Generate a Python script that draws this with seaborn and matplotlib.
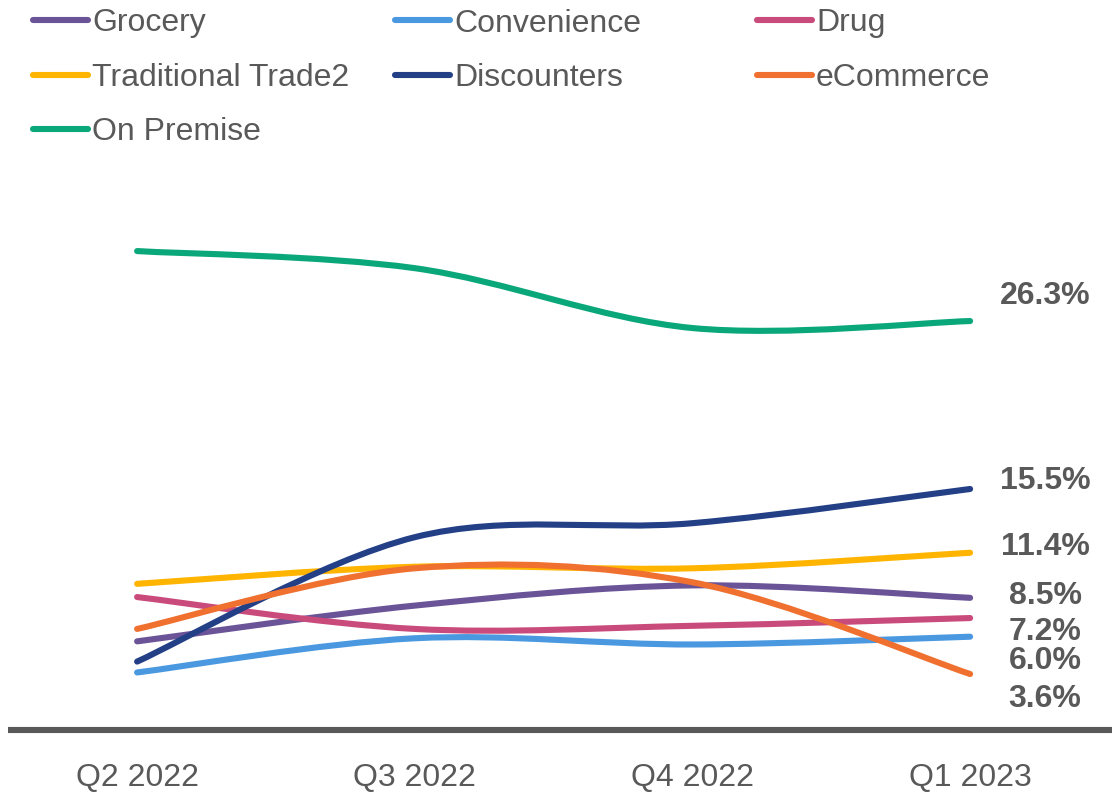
import numpy as np
import pandas as pd
import matplotlib
matplotlib.use("Agg")
import matplotlib.pyplot as plt
from matplotlib.path import Path
from matplotlib.patches import PathPatch
from matplotlib.lines import Line2D
import seaborn as sns

# ---------------- data ----------------
quarters = ["Q2 2022", "Q3 2022", "Q4 2022", "Q1 2023"]
channels = ["Grocery", "Convenience", "Drug", "Traditional Trade2",
            "Discounters", "eCommerce", "On Premise"]
grocery = [5.7, 8.0, 9.3, 8.5]
convenience = [3.7, 5.9, 5.5, 6.0]
drug = [8.55, 6.5, 6.7, 7.2]
traditional = [9.4, 10.5, 10.4, 11.4]
discounters = [4.4, 12.4, 13.3, 15.5]
ecommerce = [6.5, 10.4, 9.5, 3.6]
on_premise = [30.8, 29.7, 25.85, 26.3]
end_labels = ["8.5%", "6.0%", "7.2%", "11.4%", "15.5%", "3.6%", "26.3%"]

series = [grocery, convenience, drug, traditional, discounters, ecommerce, on_premise]
colors = ["#6A5396", "#4A99E0", "#C94B7B", "#FFB400", "#233F86", "#F07030", "#0AA77A"]
# vertical offsets of the end labels (data units), layout only
label_dy = [0.13, -1.56, -0.89, 0.38, 0.5, -1.6, 1.62]

df = pd.DataFrame({ch: vals for ch, vals in zip(channels, series)}, index=quarters)

# ---------------- style ----------------
sns.set_theme(style="white")
plt.rcParams["font.family"] = ["Liberation Sans", "DejaVu Sans"]
TXT = "#595959"
FS = 23

fig = plt.figure(figsize=(11.2, 7.94), dpi=100)
ax = fig.add_axes([8 / 1120, 64 / 794, 1104 / 1120, 580 / 794])

xpos = np.arange(len(quarters))


def smooth_path(xs, ys):
    pts = np.column_stack([xs, ys]).astype(float)
    n = len(pts)
    verts = [pts[0]]
    codes = [Path.MOVETO]
    for i in range(n - 1):
        p0 = pts[i - 1] if i > 0 else pts[i]
        p1 = pts[i]
        p2 = pts[i + 1]
        p3 = pts[i + 2] if i + 2 < n else pts[i + 1]
        c1 = p1 + (p2 - p0) / 6.0
        c2 = p2 - (p3 - p1) / 6.0
        verts += [c1, c2, p2]
        codes += [Path.CURVE4] * 3
    return Path(verts, codes)


for ch, col in zip(channels, colors):
    patch = PathPatch(smooth_path(xpos, df[ch].values), facecolor="none",
                      edgecolor=col, lw=4.4, capstyle="round", joinstyle="round",
                      transform=ax.transData)
    ax.add_patch(patch)

for ch, lab, dy in zip(channels, end_labels, label_dy):
    ax.text(3.27, df[ch].values[-1] + dy, lab, ha="center", va="center",
            fontsize=FS, fontweight="bold", color=TXT)

ax.set_xlim(-0.465, 3.511)
ax.set_ylim(0, 37.3)
ax.set_xticks(xpos)
ax.set_xticklabels(quarters, fontsize=FS, color=TXT)
ax.set_yticks([])
ax.tick_params(axis="x", length=0, pad=24)
sns.despine(ax=ax, left=True, top=True, right=True)
ax.spines["bottom"].set_color(TXT)
ax.spines["bottom"].set_linewidth(4.4)
ax.spines["bottom"].set_capstyle("butt")
ax.grid(False)

# ---------------- legend (Excel style, equal columns) ----------------
W, H = 1120, 794
col_x = [33, 395, 757]
row_y = [20, 75, 129]
for k, (ch, col) in enumerate(zip(channels, colors)):
    r, c = divmod(k, 3)
    x0 = col_x[c]
    y0 = row_y[r]
    fig.add_artist(Line2D([x0 / W, (x0 + 55) / W], [1 - y0 / H, 1 - y0 / H],
                          color=col, lw=4.4, solid_capstyle="round",
                          transform=fig.transFigure))
    fig.text((x0 + 59) / W, 1 - (y0 + 11.5) / H, ch, ha="left", va="baseline",
             fontsize=FS, color=TXT)

fig.savefig("out.png", dpi=100)
